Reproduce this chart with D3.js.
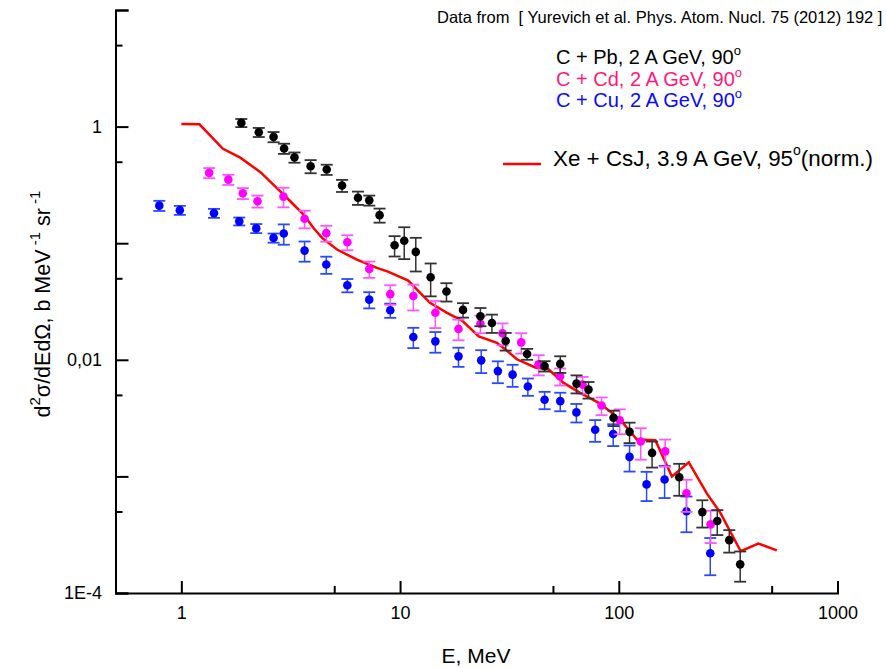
<!DOCTYPE html>
<html>
<head>
<meta charset="utf-8">
<script src="https://cdn.jsdelivr.net/npm/d3@7/dist/d3.min.js"></script>
<style>
  html, body { margin: 0; padding: 0; background: #fff; }
  svg { display: block; font-family: "Liberation Sans", Arial, sans-serif; }
</style>
</head>
<body>
<svg id="chart" width="886" height="668"></svg>
<script>
// C + Pb, 2 A GeV, 90 deg
const pbE   = [1.88, 2.26, 2.64, 2.95, 3.29, 3.90, 4.62, 5.43, 6.42, 7.23, 8.06, 9.44, 10.45, 11.8, 13.8, 16.3, 19.4, 23.3, 26.3, 30.4, 38.1, 45.8, 54.0, 64.1, 72.7, 94.6, 112, 142, 189, 241, 282, 320, 359];
const pbVal = [1.076, 0.894, 0.816, 0.648, 0.545, 0.457, 0.428, 0.312, 0.245, 0.233, 0.174, 0.0959, 0.105, 0.0842, 0.051, 0.0385, 0.0268, 0.0236, 0.0207, 0.0145, 0.0112, 0.00883, 0.00922, 0.00625, 0.00555, 0.00318, 0.00241, 0.00159, 0.000982, 0.000494, 0.000414, 0.000284, 0.000176];
const pbErr = [0.086, 0.080, 0.082, 0.065, 0.055, 0.059, 0.043, 0.037, 0.032, 0.023, 0.024, 0.019, 0.032, 0.027, 0.016, 0.0069, 0.0038, 0.0042, 0.0037, 0.0025, 0.0012, 0.0009, 0.0015, 0.0011, 0.0009, 0.00048, 0.00048, 0.0004, 0.0003, 0.00013, 0.0001, 0.000062, 0.000051];

// C + Cd, 2 A GeV, 90 deg
const cdE   = [1.34, 1.64, 1.91, 2.23, 2.93, 3.66, 4.60, 5.74, 7.23, 9.02, 11.5, 14.5, 18.5, 23.3, 29.4, 35.8, 43.0, 53.9, 68.3, 83.4, 101, 126, 163, 204, 263];
const cdVal = [0.401, 0.351, 0.268, 0.229, 0.251, 0.162, 0.122, 0.102, 0.060, 0.0366, 0.0353, 0.0253, 0.0184, 0.0204, 0.0169, 0.0141, 0.00915, 0.00722, 0.00613, 0.00405, 0.00303, 0.00199, 0.00164, 0.000716, 0.000388];
const cdErr = [0.040, 0.035, 0.029, 0.027, 0.048, 0.028, 0.019, 0.015, 0.0096, 0.007, 0.0088, 0.0066, 0.0037, 0.0035, 0.0036, 0.0028, 0.0018, 0.0012, 0.001, 0.0007, 0.00073, 0.0006, 0.00043, 0.00022, 0.00012];

// C + Cu, 2 A GeV, 90 deg
const cuE   = [0.793, 0.984, 1.41, 1.84, 2.20, 2.64, 2.94, 3.66, 4.60, 5.74, 7.23, 9.02, 11.5, 14.5, 18.5, 23.5, 28.0, 32.7, 38.4, 45.8, 54.0, 64.0, 78.0, 94.3, 112, 134, 162, 204, 262];
const cuVal = [0.210, 0.192, 0.181, 0.154, 0.134, 0.111, 0.121, 0.0864, 0.0656, 0.0436, 0.0328, 0.0266, 0.0157, 0.0144, 0.0107, 0.00989, 0.0080, 0.00746, 0.00591, 0.00454, 0.00442, 0.00354, 0.00251, 0.00231, 0.00147, 0.000854, 0.000942, 0.000502, 0.000219];
const cuErr = [0.021, 0.017, 0.016, 0.012, 0.012, 0.010, 0.024, 0.017, 0.011, 0.0057, 0.0052, 0.0037, 0.0031, 0.0029, 0.002, 0.0022, 0.0017, 0.0016, 0.001, 0.00077, 0.0008, 0.00064, 0.00053, 0.00049, 0.00037, 0.00024, 0.00029, 0.00017, 0.000077];

// Xe + CsJ, 3.9 A GeV, 95 deg (normalised)
const xeE   = [1.0, 1.21, 1.55, 1.86, 2.30, 2.78, 3.15, 3.62, 4.02, 4.40, 5.15, 6.35, 7.84, 8.86, 10.9, 11.95, 13.7, 16.4, 19.2, 22.9, 27.7, 30.6, 34.2, 41.5, 47.7, 55.7, 66.6, 82.2, 101.5, 121, 147, 175, 209, 253, 291, 361, 435, 528];
const xeVal = [1.055, 1.046, 0.645, 0.542, 0.407, 0.288, 0.229, 0.176, 0.135, 0.111, 0.0882, 0.0723, 0.0614, 0.0567, 0.0478, 0.040, 0.0308, 0.0253, 0.0217, 0.0159, 0.0140, 0.0121, 0.0101, 0.0086, 0.0083, 0.00637, 0.0052, 0.00421, 0.00307, 0.00207, 0.00204, 0.00100, 0.00132, 0.000712, 0.000489, 0.000228, 0.000265, 0.000232];

// Axis ticks
const xMajorTicks = [1, 10, 100, 1000];
const xMinorTicks = [5, 50, 500];
const yMajorTicks = [1e-4, 1e-3, 1e-2, 1e-1, 1, 10];
const yMinorTicks = [5e-4, 5e-3, 5e-2, 5e-1, 5];
const yTickLabels = [{v: 1e-4, t: "1E-4"}, {v: 1e-2, t: "0,01"}, {v: 1, t: "1"}];

const svg = d3.select("#chart");
const FONT = "'Liberation Sans', Arial, sans-serif";

const x = d3.scaleLog().domain([0.5, 1000]).range([115.5, 837.5]);
const y = d3.scaleLog().domain([1e-4, 10]).range([593, 10]);

// Axes: only left and bottom spines, ticks pointing inwards
const xMajor = d3.axisBottom(x).tickValues(xMajorTicks).tickSize(-12).tickFormat(d3.format("d")).tickPadding(10);
const xMinor = d3.axisBottom(x).tickValues(xMinorTicks).tickSize(-7).tickFormat("");
const yMajor = d3.axisLeft(y).tickValues(yMajorTicks).tickSize(-13).tickFormat("");
const yMinor = d3.axisLeft(y).tickValues(yMinorTicks).tickSize(-7).tickFormat("");

function styleAxis(g) {
  g.select(".domain").attr("stroke", "#000").attr("stroke-width", 2);
  g.selectAll(".tick line").attr("stroke", "#000").attr("stroke-width", 2);
  g.selectAll(".tick text").attr("font-size", 18).attr("font-family", FONT).attr("fill", "#000");
}

const gx = svg.append("g").attr("transform", "translate(0,593)").call(xMajor).call(styleAxis);
gx.selectAll(".tick text").attr("dy", "0.9em");
svg.append("g").attr("transform", "translate(0,593)").call(xMinor).call(styleAxis).select(".domain").remove();
svg.append("g").attr("transform", "translate(115.5,0)").call(yMajor).call(styleAxis);
svg.append("g").attr("transform", "translate(115.5,0)").call(yMinor).call(styleAxis).select(".domain").remove();

svg.append("g").selectAll("text").data(yTickLabels).join("text")
  .attr("x", 102).attr("y", d => y(d.v)).attr("dy", "0.36em")
  .attr("text-anchor", "end").attr("font-size", 18).attr("font-family", FONT)
  .text(d => d.t);

// Axis titles
svg.append("text").attr("x", 476).attr("y", 663).attr("text-anchor", "middle")
  .attr("font-size", 21).attr("font-family", FONT).text("E, MeV");

const yt = svg.append("text").attr("transform", "translate(50,304) rotate(-90)")
  .attr("text-anchor", "middle").attr("font-size", 21.5).attr("font-family", FONT);
yt.append("tspan").text("d");
yt.append("tspan").attr("font-size", 15).attr("dy", -10).text("2");
yt.append("tspan").attr("dy", 10).text("σ/dEdΩ, b MeV");
yt.append("tspan").attr("font-size", 15).attr("dy", -10).text(" -1");
yt.append("tspan").attr("dy", 10).text(" sr");
yt.append("tspan").attr("font-size", 15).attr("dy", -10).text(" -1");

// Model curve
const line = d3.line().x(d => x(d[0])).y(d => y(d[1]));
svg.append("path").datum(d3.zip(xeE, xeVal))
  .attr("d", line).attr("fill", "none").attr("stroke", "#ff0000")
  .attr("stroke-width", 2.5).attr("stroke-linejoin", "miter");

// Data series with error bars
function drawSeries(es, vs, errs, dotColor, barColor) {
  const data = d3.zip(es, vs, errs);
  const g = svg.append("g");
  const capW = 6;
  data.forEach(([e, v, er]) => {
    const cx = x(e);
    const lo = Math.max(v - er, 1e-6);
    const y0 = y(v + er), y1 = y(lo);
    g.append("line").attr("x1", cx).attr("x2", cx).attr("y1", y0).attr("y2", y1)
      .attr("stroke", barColor).attr("stroke-width", 1.5);
    [y0, y1].forEach(yy => g.append("line").attr("x1", cx - capW).attr("x2", cx + capW)
      .attr("y1", yy).attr("y2", yy).attr("stroke", barColor).attr("stroke-width", 1.8));
  });
  g.selectAll("circle").data(data).join("circle")
    .attr("cx", d => x(d[0])).attr("cy", d => y(d[1])).attr("r", 4.3)
    .attr("fill", dotColor);
}
drawSeries(cuE, cuVal, cuErr, "#0000ff", "#2a48ff");
drawSeries(cdE, cdVal, cdErr, "#ff00ff", "#ff55ff");
drawSeries(pbE, pbVal, pbErr, "#000000", "#333333");

// Source note and legend
svg.append("text").attr("x", 437).attr("y", 23).attr("font-size", 16.5).attr("font-family", FONT)
  .attr("xml:space", "preserve")
  .text("Data from  [ Yurevich et al. Phys. Atom. Nucl. 75 (2012) 192 ]");

const legendRows = [
  {t: "C + Pb, 2 A GeV, 90", c: "#000000", y: 64},
  {t: "C + Cd, 2 A GeV, 90", c: "#ff1a7a", y: 85.5},
  {t: "C + Cu, 2 A GeV, 90", c: "#0a0aff", y: 107}
];
legendRows.forEach(r => {
  const t = svg.append("text").attr("x", 556).attr("y", r.y).attr("font-size", 20)
    .attr("font-family", FONT).attr("fill", r.c);
  t.append("tspan").text(r.t);
  t.append("tspan").attr("font-size", 13).attr("dy", -9).text("o");
});

svg.append("line").attr("x1", 503).attr("x2", 541).attr("y1", 164).attr("y2", 164)
  .attr("stroke", "#ff0000").attr("stroke-width", 2.5);
const xl = svg.append("text").attr("x", 553).attr("y", 166).attr("font-size", 22.4).attr("font-family", FONT);
xl.append("tspan").text("Xe + CsJ, 3.9 A GeV, 95");
xl.append("tspan").attr("font-size", 14).attr("dy", -11).text("o");
xl.append("tspan").attr("dy", 11).text("(norm.)");
</script>
</body>
</html>
